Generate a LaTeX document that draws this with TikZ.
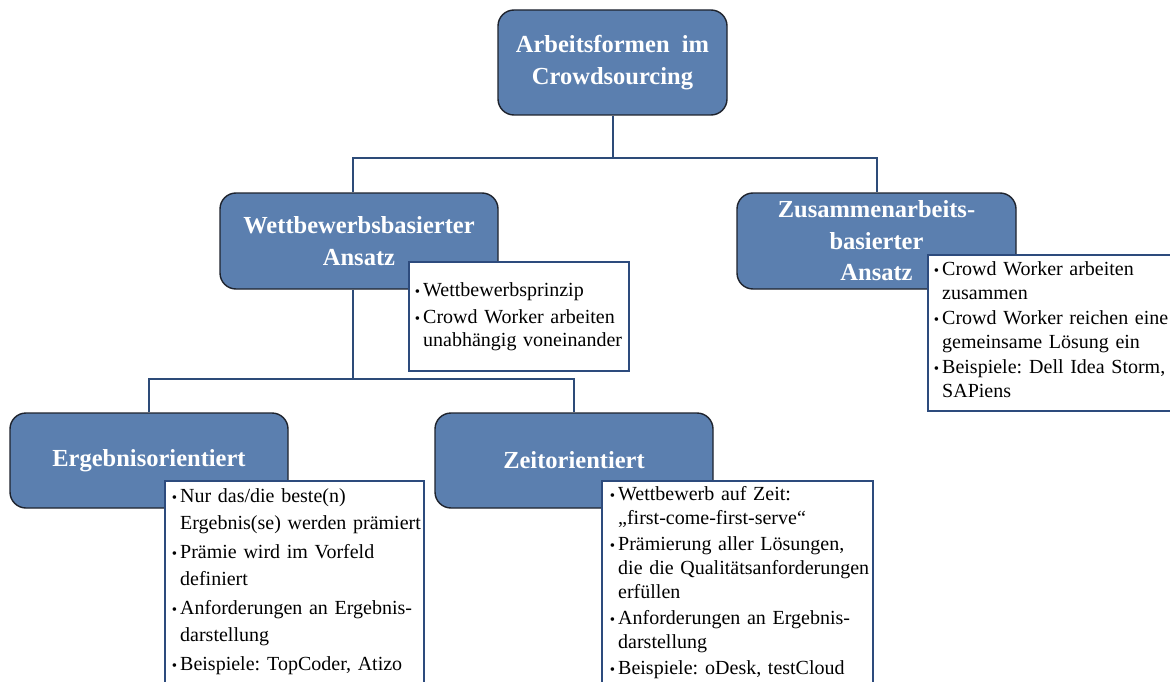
\documentclass[tikz,border=0pt]{standalone}
\usepackage{fontspec}
\setmainfont{Liberation Serif}
\definecolor{boxfill}{RGB}{91,127,175}
\definecolor{boxline}{RGB}{30,35,45}
\definecolor{connline}{RGB}{45,75,120}
\definecolor{detline}{RGB}{45,75,125}
\tikzset{
 head/.style={draw=boxline, line width=1.4pt, fill=boxfill, rounded corners=16pt, text=white,
   font=\bfseries\fontsize{24.5}{31.5}\selectfont, align=center, inner sep=0pt},
 conn/.style={draw=connline, line width=2pt},
 detbox/.style={draw=detline, line width=2.2pt, fill=white, inner sep=0pt, anchor=north west},
 dettext/.style={anchor=base west, text width=300pt, align=left, inner sep=0pt},
}
\newcommand{\bu}{\leavevmode\llap{{\fontsize{15}{15}\selectfont\textbullet}\hspace{3pt}}}
\begin{document}
\begin{tikzpicture}[x=1pt,y=-1pt]
\clip (0,0) rectangle (1170,682);
\fill[white] (0,0) rectangle (1170,682);
% heading boxes
\coordinate (j1) at (612.5,158);
\coordinate (j2) at (353,379);
\node[head, minimum width=229pt, minimum height=105pt] (root) at (612.5,62.5) {Arbeitsformen\ \ im\\Crowdsourcing};
\node[head, minimum width=278pt, minimum height=96pt] (wett) at (359,241) {Wettbewerbsbasierter\\Ansatz};
\node[head, minimum width=279pt, minimum height=96pt] (zus) at (876.5,241) {Zusammenarbeits-\\basierter\\Ansatz};
\node[head, minimum width=278pt, minimum height=95pt] (erg) at (149,460.5) {Ergebnisorientiert};
\node[head, minimum width=278pt, minimum height=95pt] (zeit) at (574,460.5) {Zeitorientiert};
% connectors
\draw[conn] (root.south) -- (j1);
\draw[conn] ([xshift=-6pt]wett.north) |- (j1) -| (zus.north);
\draw[conn] ([xshift=-6pt]wett.south) -- (j2);
\draw[conn] (erg.north) |- (j2) -| (zeit.north);
% detail boxes
\node[detbox, minimum width=220pt, minimum height=109pt] (wd) at (408,261) {};
\node[dettext, font=\fontsize{20}{23}\selectfont] (wdt) at ([shift={(15,35)}]wd.north west)
  {\bu Wettbewerbsprinzip\\[4pt]\bu Crowd Worker arbeiten\\unabhängig voneinander};
\node[detbox, minimum width=252pt, minimum height=156pt] (zd) at (927,254) {};
\node[dettext, font=\fontsize{20}{24.5}\selectfont] (zdt) at ([shift={(15,21)}]zd.north west)
  {\bu Crowd Worker arbeiten\\zusammen\\\bu Crowd Worker reichen eine\\gemeinsame Lösung ein\\\bu Beispiele:\hspace{7pt}Dell Idea Storm,\\SAPiens};
\node[detbox, minimum width=259pt, minimum height=220pt] (ed) at (164,480) {};
\node[dettext, font=\fontsize{20}{27}\selectfont] (edt) at ([shift={(16,22)}]ed.north west)
  {\bu Nur das/die beste(n)\\Ergebnis(se) werden prämiert\\[2pt]\bu Prämie wird im Vorfeld\\definiert\\[2pt]\bu Anforderungen an Ergebnis-\\darstellung\\[2pt]\bu Beispiele:\hspace{7pt}TopCoder, Atizo};
\node[detbox, minimum width=271pt, minimum height=220pt] (zzd) at (601,480) {};
\node[dettext, font=\fontsize{20}{24}\selectfont] (zzdt) at ([shift={(17,20)}]zzd.north west)
  {\bu Wettbewerb auf Zeit:\\„first-come-first-serve“\\[2pt]\bu Prämierung aller Lösungen,\\die die Qualitätsanforderungen\\erfüllen\\[2pt]\bu Anforderungen an Ergebnis-\\darstellung\\[2pt]\bu Beispiele:\hspace{7pt}oDesk, testCloud};
\end{tikzpicture}
\end{document}
